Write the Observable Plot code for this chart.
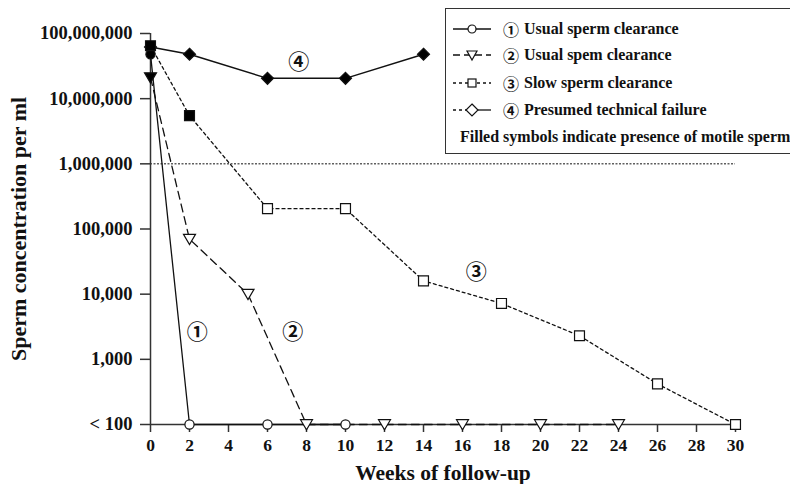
<!DOCTYPE html>
<html><head><meta charset="utf-8">
<script src="https://cdn.jsdelivr.net/npm/d3@7"></script>
<script src="https://cdn.jsdelivr.net/npm/@observablehq/plot@0.6"></script>
<style>
body{margin:0;background:#fff;overflow:hidden}
#wrap{position:relative;width:790px;height:484px;overflow:hidden}
#legend{position:absolute;left:445px;top:8px;width:380px;height:146px;border:1.5px solid #333;box-sizing:border-box;background:#fff;font-family:"Liberation Serif",serif;font-weight:bold;font-size:16px;color:#111}
.row{position:absolute;left:0;height:22px;display:flex;align-items:center;white-space:nowrap}
.num{font-family:"Noto Sans CJK JP","DejaVu Sans",sans-serif;font-weight:bold;font-size:16px;width:21px;display:inline-block;margin-left:9px}
</style></head><body><div id="wrap"></div>
<script>
// ---- data ----
const weeks1 = [0, 2, 6, 10];
const conc1  = [48e6, 100, 100, 100];
const motile1 = [1, 0, 0, 0];

const weeks2 = [0, 2, 5, 8, 12, 16, 20, 24];
const conc2  = [21e6, 70000, 10000, 100, 100, 100, 100, 100];
const motile2 = [1, 0, 0, 0, 0, 0, 0, 0];

const weeks3 = [0, 2, 6, 10, 14, 18, 22, 26, 30];
const conc3  = [65e6, 5.5e6, 205000, 205000, 16000, 7200, 2300, 420, 100];
const motile3 = [1, 1, 0, 0, 0, 0, 0, 0, 0];

const weeks4 = [0, 2, 6, 10, 14];
const conc4  = [62e6, 48e6, 20.5e6, 20.5e6, 48e6];
const motile4 = [1, 1, 1, 1, 1];

const labelText  = ["①", "②", "③", "④"];
const labelWeeks = [2.4, 7.3, 16.7, 7.6];
const labelConc  = [2600, 2600, 22000, 36000000];

const legendNums   = ["①", "②", "③", "④"];
const legendLabels = ["Usual sperm clearance", "Usual spem clearance", "Slow sperm clearance", "Presumed technical failure"];
const legendNote   = "Filled symbols indicate presence of motile sperm";

const xTicks = [0, 2, 4, 6, 8, 10, 12, 14, 16, 18, 20, 22, 24, 26, 28, 30];
const yTicks = [100, 1000, 10000, 100000, 1000000, 10000000, 100000000];
const thresholdLine = [1000000];
const xLabel = "Weeks of follow-up";
const yLabel = "Sperm concentration per ml";

// ---- build ----
const rows = (w, c, m) => w.map((d, i) => ({week: d, conc: c[i], motile: m[i]}));
const s1 = rows(weeks1, conc1, motile1);
const s2 = rows(weeks2, conc2, motile2);
const s3 = rows(weeks3, conc3, motile3);
const s4 = rows(weeks4, conc4, motile4);
const labels = labelText.map((t, i) => ({t, week: labelWeeks[i], conc: labelConc[i]}));

const triDown = {
  draw(ctx, size) {
    const r = Math.sqrt(size / Math.PI);
    ctx.moveTo(-r, -0.8 * r);
    ctx.lineTo(r, -0.8 * r);
    ctx.lineTo(0, 0.9 * r);
    ctx.closePath();
  }
};
const fillOf = d => d.motile ? "black" : "white";
const ink = "#111";
const axisInk = "#333";
const fmt = d3.format(",");

const chart = Plot.plot({
  width: 790,
  height: 484,
  marginLeft: 150,
  marginRight: 55,
  marginTop: 33,
  marginBottom: 60,
  style: {fontFamily: "'Liberation Serif', serif", fontWeight: "bold", fontSize: "17px", color: "#111", background: "white"},
  x: {domain: [0, 30]},
  y: {type: "log", domain: [100, 1e8]},
  marks: [
    Plot.ruleY(thresholdLine, {stroke: ink, strokeWidth: 1, strokeDasharray: "2,1.5"}),
    Plot.ruleX([0], {y1: 100, y2: 1e8, stroke: axisInk, strokeWidth: 1.5}),
    Plot.ruleY([100], {stroke: axisInk, strokeWidth: 1.5}),
    Plot.axisY({ticks: yTicks, tickSize: 10, tickPadding: 8, stroke: axisInk, strokeWidth: 1.5,
      tickFormat: d => d === 100 ? "< 100" : fmt(d), label: null, fontSize: 18.5}),
    Plot.axisX({ticks: xTicks, tickSize: 8, tickPadding: 6, stroke: axisInk, strokeWidth: 1.5,
      tickFormat: d => String(d), label: null, fontSize: 17.5}),
    Plot.line(s4, {x: "week", y: "conc", stroke: ink, strokeWidth: 1.5}),
    Plot.line(s3, {x: "week", y: "conc", stroke: ink, strokeWidth: 1.3, strokeDasharray: "3,3"}),
    Plot.line(s2, {x: "week", y: "conc", stroke: ink, strokeWidth: 1.3, strokeDasharray: "8,5"}),
    Plot.line(s1, {x: "week", y: "conc", stroke: ink, strokeWidth: 1.3}),
    Plot.dot(s4, {x: "week", y: "conc", symbol: "diamond2", r: 5.4, fill: fillOf, stroke: ink, strokeWidth: 1.2}),
    Plot.dot(s2, {x: "week", y: "conc", symbol: triDown, r: 6, fill: fillOf, stroke: ink, strokeWidth: 1.2}),
    Plot.dot(s1, {x: "week", y: "conc", symbol: "circle", r: 4.6, fill: fillOf, stroke: ink, strokeWidth: 1.2}),
    Plot.dot(s3, {x: "week", y: "conc", symbol: "square", r: 5.6, fill: fillOf, stroke: ink, strokeWidth: 1.2}),
    Plot.text(labels, {x: "week", y: "conc", text: "t", fontSize: 21, fontFamily: "'Noto Sans CJK JP', 'DejaVu Sans', sans-serif", fontWeight: "bold", fill: ink}),
    Plot.text([xLabel], {frameAnchor: "bottom", dy: 55, fontSize: 21.5, fill: ink}),
    Plot.text([yLabel], {frameAnchor: "left", textAnchor: "middle", dx: -132, rotate: -90, fontSize: 22, fill: ink})
  ]
});
const wrap = document.getElementById("wrap");
wrap.appendChild(chart);

// ---- legend (overlay inside plot area) ----
const legend = document.createElement("div");
legend.id = "legend";
wrap.appendChild(legend);
const rowTops = [9, 35, 63, 90];
legendLabels.forEach((lab, i) => {
  const row = document.createElement("div");
  row.className = "row";
  row.style.top = rowTops[i] + "px";
  const svg = d3.create("svg").attr("width", 48).attr("height", 22).style("flex", "none");
  const cy = 11;
  if (i === 0) {
    svg.append("line").attr("x1", 7).attr("x2", 45).attr("y1", cy).attr("y2", cy).attr("stroke", ink).attr("stroke-width", 1.3);
    svg.append("circle").attr("cx", 26).attr("cy", cy).attr("r", 4).attr("fill", "white").attr("stroke", ink).attr("stroke-width", 1.2);
  } else if (i === 1) {
    svg.append("line").attr("x1", 7).attr("x2", 45).attr("y1", cy).attr("y2", cy).attr("stroke", ink).attr("stroke-width", 1.3).attr("stroke-dasharray", "7,4");
    svg.append("path").attr("d", `M${21},${cy-4}L${31},${cy-4}L${26},${cy+5}Z`).attr("fill", "white").attr("stroke", ink).attr("stroke-width", 1.2);
  } else if (i === 2) {
    svg.append("line").attr("x1", 7).attr("x2", 45).attr("y1", cy).attr("y2", cy).attr("stroke", ink).attr("stroke-width", 1.3).attr("stroke-dasharray", "3,3");
    svg.append("rect").attr("x", 22).attr("y", cy - 4).attr("width", 8).attr("height", 8).attr("fill", "white").attr("stroke", ink).attr("stroke-width", 1.2);
  } else {
    svg.append("line").attr("x1", 7).attr("x2", 26).attr("y1", cy).attr("y2", cy).attr("stroke", ink).attr("stroke-width", 1.3).attr("stroke-dasharray", "3,3");
    svg.append("line").attr("x1", 26).attr("x2", 45).attr("y1", cy).attr("y2", cy).attr("stroke", ink).attr("stroke-width", 1.3);
    svg.append("path").attr("d", `M26,${cy-6}L32,${cy}L26,${cy+6}L20,${cy}Z`).attr("fill", "white").attr("stroke", ink).attr("stroke-width", 1.2);
  }
  row.appendChild(svg.node());
  const num = document.createElement("span");
  num.className = "num";
  num.textContent = legendNums[i];
  row.appendChild(num);
  const txt = document.createElement("span");
  txt.textContent = lab;
  row.appendChild(txt);
  legend.appendChild(row);
});
const note = document.createElement("div");
note.className = "row";
note.style.top = "117px";
note.style.left = "14px";
note.textContent = legendNote;
legend.appendChild(note);
</script>
</body></html>
